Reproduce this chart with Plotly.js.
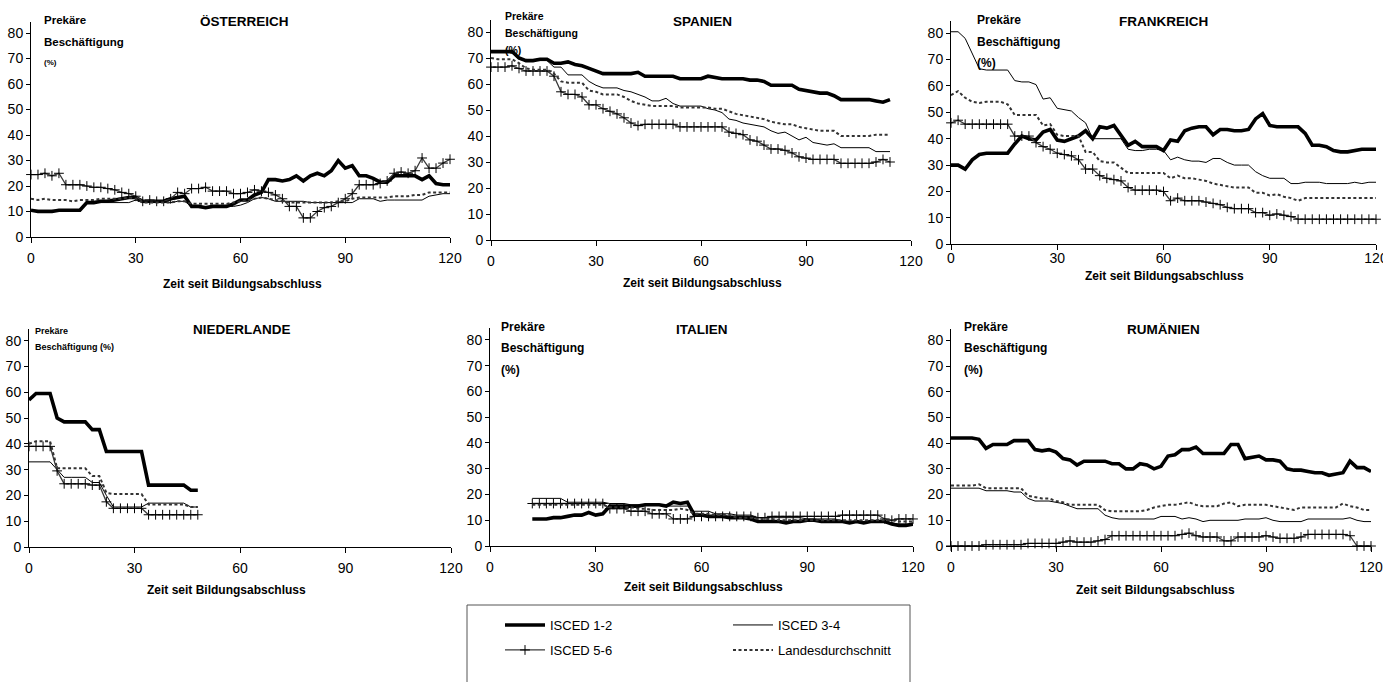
<!DOCTYPE html>
<html>
<head>
<meta charset="utf-8">
<script src="https://cdn.plot.ly/plotly-3.0.1.min.js"></script>
<style>html,body{margin:0;padding:0;background:#fff;}#chart{width:1383px;height:682px;}</style>
</head>
<body>
<div id="chart"></div>
<script>
// ---------- DATA ----------
const SERIES_NAMES = ['ISCED 1-2', 'ISCED 3-4', 'ISCED 5-6', 'Landesdurchschnitt'];
const COUNTRY_NAMES = ['ÖSTERREICH', 'SPANIEN', 'FRANKREICH', 'NIEDERLANDE', 'ITALIEN', 'RUMÄNIEN'];
const X_TICKS = [0, 30, 60, 90, 120];
const Y_TICKS = [0, 10, 20, 30, 40, 50, 60, 70, 80];
const X_TITLE = 'Zeit seit Bildungsabschluss';
const Y_TITLE_LINES = ['Prekäre', 'Beschäftigung', '(%)'];

const months_0_120 = [0,2,4,6,8,10,12,14,16,18,20,22,24,26,28,30,32,34,36,38,40,42,44,46,48,50,52,54,56,58,60,62,64,66,68,70,72,74,76,78,80,82,84,86,88,90,92,94,96,98,100,102,104,106,108,110,112,114,116,118,120];
const months_0_114 = [0,2,4,6,8,10,12,14,16,18,20,22,24,26,28,30,32,34,36,38,40,42,44,46,48,50,52,54,56,58,60,62,64,66,68,70,72,74,76,78,80,82,84,86,88,90,92,94,96,98,100,102,104,106,108,110,112,114];
const months_0_48 = [0,2,4,6,8,10,12,14,16,18,20,22,24,26,28,30,32,34,36,38,40,42,44,46,48];
const months_12_120 = [12,14,16,18,20,22,24,26,28,30,32,34,36,38,40,42,44,46,48,50,52,54,56,58,60,62,64,66,68,70,72,74,76,78,80,82,84,86,88,90,92,94,96,98,100,102,104,106,108,110,112,114,116,118,120];

// Österreich
const at_isced12 = [10.5,10,10,10,10.5,10.5,10.5,10.5,13.5,13.5, 14,14,14.5,15,15.5,15.5,14,14,14,14, 15,15.5,16,12,12,11.5,12,12,12,13, 14.5,14.5,16.5,17.5,22.5,22.5,22,22.5,24,22, 24,25,24,26,30,27,28,24,24,23, 21.5,21.5,24,24,24,24,22.5,24,21,20.5, 20.5];
const at_isced34 = [10.5,10.5,10.5,10.5,10.5,10.5,10.5,10.5,13.5,13.5, 13.5,13.5,13.5,13.5,13.5,14.5,13.5,13.5,13.5,13.5, 13.5,14,14,12,12,12,12,12,12,12, 12.5,13.5,15,15.5,15,14,14,14,14,14, 13.5,13.5,13.5,13.5,13.5,13.5,13.5,15,15,15, 14,14.5,14.5,14.5,14.5,14.5,14.5,16,16.5,17, 17];
const at_isced56 = [24.5,24.5,25,24,25,20.5,20.5,20.5,20,19.5, 19.5,19,18.5,17.5,17,16,14,14.5,14,14, 15,17.5,17,19,19,19.5,18,18,18,17, 17,17.5,18.5,18,17.5,16.5,15,12,12,7.5, 7.5,10,11.5,12,13.5,15,17,20.5,20.5,20.5, 21,22,25,25.5,25,26,31,27,27,29, 30.5];
const at_avg = [15,14.5,15,14.5,14.5,14.5,14,14.5,14.5,14.5, 15,15,15,15,15.5,15,13.5,13.5,13.5,13.5, 13.5,14,14,13,13,13,13,13,13,13.5, 14,14.5,15,15.5,15,14.5,14,13.5,13.5,13.5, 13.5,13.5,13.5,13.5,14,14,15,15.5,15.5,15.5, 15.5,15.5,16,16,16,16.5,16.5,17.5,17.5,17.5, 17.5];

// Spanien
const es_isced12 = [72.5,72.5,72.5,72.5,70,69,69,69.5,69.5,68, 68,68.5,67.5,67,66,65,64,64,64,64, 64,64.5,63,63,63,63,63,62,62,62, 62,63,62.5,62,62,62,62,61.5,61.5,61, 59.5,59.5,59.5,59.5,58,57.5,57,56.5,56.5,55.5, 54,54,54,54,54,53.5,53,54];
const es_isced34 = [72,72,72,72,69.5,69,69,69,69,66.5, 66.5,63.5,63.5,63.5,61,59.5,58.5,58.5,58.5,57.5, 57,56,55,53.5,53.5,54.5,52.5,51.5,51.5,51.5, 51.5,50.5,50,49,46.5,46,45,44.5,44,43.5, 42,41,41.5,40,38.5,39.5,37.5,37,36.5,37, 35.5,35.5,35.5,35.5,35.5,34,34,34];
const es_isced56 = [66.5,66.5,66.5,67,66,65,65,65,65,63, 57,56,56,55,52,52,50.5,49.5,48.5,47, 45,44,44.5,44.5,44.5,44.5,44.5,43.5,43.5,43.5, 43.5,43.5,43.5,43.5,41.5,41,40.5,38.5,38,36.5, 35,35,34.5,33.5,32,31.5,31,31,31,31, 29.5,29.5,29.5,29.5,29.5,30,31,30];
const es_avg = [70,69.5,69.5,69.5,68,66,65.5,65.5,65.5,64, 61,60.5,60.5,60.5,57.5,57,56,56,56,55, 53.5,52.5,52,51.5,51.5,51.5,51.5,51,51,51, 51,51,50.5,50.5,49.5,48.5,48,47.5,47,46.5, 45.5,45,44.5,44.5,43.5,43,42.5,42,42,42, 40,40,40,40,40,40.5,40.5,40.5];

// Frankreich
const fr_isced12 = [30,30,28.5,32,34,34.5,34.5,34.5,34.5,38, 41,40,39.5,42.5,43.5,39.5,39,40,41,43, 40,44.5,44,45,41.5,37.5,39,37,37,37, 35.5,39.5,39,43,44,44.5,44.5,41.5,43.5,43.5, 43,43,43.5,47.5,49.5,45,44.5,44.5,44.5,44.5, 42,37.5,37.5,37,35.5,35,35,35.5,36,36, 36];
const fr_isced34 = [80.5,80.5,78,72,66.5,66,66,66,66,62, 61.5,61.5,60.5,55,55.5,51.5,51,50.5,48,46, 40,40,40,40,40,36,35.5,35.5,36,36, 35.5,32,33,32,31.5,31.5,31,32.5,32.5,31, 30,30,30,27.5,26,25,25,25,23,23, 23.5,23.5,23.5,23,23,23,23,23.5,23,23.5, 23.5];
const fr_isced56 = [46,47,45.5,45.5,45.5,45.5,45.5,45.5,45.5,41, 41,41,38.5,37,36,34.5,34,33.5,32,28.5, 28.5,26,25,24.5,24,21.5,20.5,20.5,20.5,20.5, 20,16.5,17.5,16.5,16.5,16.5,16,15.5,15,14, 13.5,13.5,13.5,12,12,11,11.5,11,10.5,9.5, 9.5,9.5,9.5,9.5,9.5,9.5,9.5,9.5,9.5,9.5, 9.5];
const fr_avg = [56.5,58,55.5,54,53.5,54,54,54,53,49, 49,49,49,45,45.5,41.5,41,41,41,35, 35,31.5,31,31,29,27,27,27,27,27, 27,25,26,25,25,24.5,24,23,22.5,22, 21.5,21.5,21.5,19.5,19.5,18.5,19,18,17.5,16.5, 17.5,17.5,17.5,17.5,17.5,17.5,17.5,17.5,17.5,17.5, 17.5];

// Niederlande
const nl_isced12 = [57,59.5,59.5,59.5,50,48.5,48.5,48.5,48.5,45.5,45.5,37,37,37,37,37,37,24,24,24,24,24,24,22,22];
const nl_isced34 = [33,33,33,33,30,27,27,27,27,25,25,20,15.5,15.5,15.5,15.5,15.5,17,17,17,17,17,17,15.5,15.5];
const nl_isced56 = [39,39,39,39,29.5,24.5,24.5,24.5,24.5,24,24,17.5,15,15,15,15,15,12.5,12.5,12.5,12.5,12.5,12.5,12.5,12.5];
const nl_avg = [40,41,41,41,30.5,30.5,30.5,30.5,30.5,27.5,27.5,21,20.5,20.5,20.5,20.5,20.5,16.5,16.5,16.5,16.5,16.5,16.5,15.5,15.5];

// Italien
const it_isced12 = [10.5,10.5,10.5,11,11,11.5,12,12,13,12, 12.5,15.5,15.5,15.5,15.5,15.5,16,16,16,15.5, 17,16.5,17,12,12,11.5,11.5,11.5,11,11, 11,10.5,9.5,9.5,9.5,9.5,9,9.5,9.5,10, 10,9.5,9.5,9.5,9.5,9,9.5,9,9.5,9.5, 9.5,8.5,8,8,8.5];
const it_isced34 = [18.5,18.5,18.5,18.5,18.5,17,17,17,17,17, 17,16.5,16.5,16.5,16,16,16,16,16,15.5, 15.5,15.5,15.5,13.5,13.5,13.5,12.5,12.5,12.5,12, 12,12,11,11,11,11,11,11,11,10.5, 10.5,10.5,10.5,10.5,9.5,9.5,9.5,9.5,9.5,9.5, 9.5,9,8.5,8.5,8.5];
const it_isced56 = [16.5,16.5,16.5,16.5,16.5,16.5,16.5,16.5,16.5,16.5, 16.5,14.5,14.5,14.5,13.5,13.5,13.5,12.5,12.5,12.5, 10.5,10.5,10.5,11.5,11.5,11.5,11.5,11.5,11.5,11.5, 11.5,11.5,11,11,11.5,11.5,11.5,11.5,11.5,11.5, 11.5,11.5,11.5,11.5,12,12,12,12,12,12, 10.5,10,10.5,10.5,10.5];
const it_avg = [16,16,16,16,16,16,16,16,16,16, 16,15,15,15,15,14.5,14.5,14,14,14, 14,14.5,14,12.5,12.5,12.5,12,12,12,11, 11,11,10.5,10.5,10.5,10,10,10,10,10, 10,10,10,10,10,10,10,10,10,10, 10,10,9.5,9.5,9.5];

// Rumänien
const ro_isced12 = [42,42,42,42,41.5,38,39.5,39.5,39.5,41, 41,41,37.5,37,37.5,36.5,34,33.5,31.5,33, 33,33,33,32,32,30,30,32,31.5,30, 31,35,35.5,37.5,37.5,38.5,36,36,36,36, 39.5,39.5,34,34.5,35,33.5,33.5,33,30,29.5, 29.5,29,28.5,28.5,27.5,28,28.5,33,30.5,30.5, 29];
const ro_isced34 = [22.5,22.5,22.5,22.5,22.5,21.5,21.5,21.5,21.5,21, 21,18.5,17.5,17.5,17.5,17,16.5,15.5,14.5,14.5, 14.5,14.5,12,11,10.5,10.5,10.5,10.5,10.5,10.5, 11.5,11.5,11.5,10.5,11,10.5,9.5,10,10,10, 10,10,10.5,10.5,10.5,11,10,9.5,9.5,9.5, 9.5,10.5,10.5,10.5,10.5,10.5,10.5,11,10,9.5, 9.5];
const ro_isced56 = [0,0,0,0,0,0.5,0.5,0.5,0.5,0.5, 0.5,1,1,1,1,1,1.5,2,1.5,1.5, 1.5,2,2.5,4,4,4,4,4,4,4, 4,4,4,4.5,5,4,3.5,3.5,3.5,2, 2,3.5,3.5,3.5,3.5,4,3.5,3,3,3, 3.5,4.5,4.5,4.5,4.5,4.5,4.5,4,0,0, 0];
const ro_avg = [23.5,23.5,23.5,23.5,24,22.5,22.5,22.5,22.5,22.5, 22.5,19.5,19,18.5,18.5,17.5,17,16,16,16, 16,16,14,13.5,13.5,13.5,13.5,13.5,14,15, 15.5,16,16,16.5,17,16,15.5,15.5,15.5,16.5, 17,15.5,16,16,16,16,15.5,15,14.5,14, 15,15,15,15,15,15,16.5,15.5,15,14, 14];

// ---------- BUILD ----------
const W = 1383, H = 682;
const FONT = 'Liberation Sans, Arial, Helvetica, sans-serif';
const px = v => v / W;
const py = v => 1 - v / H;

const panels = [
  {months: months_0_120, data: [at_isced12, at_isced34, at_isced56, at_avg]},
  {months: months_0_114, data: [es_isced12, es_isced34, es_isced56, es_avg]},
  {months: months_0_120, data: [fr_isced12, fr_isced34, fr_isced56, fr_avg]},
  {months: months_0_48,  data: [nl_isced12, nl_isced34, nl_isced56, nl_avg]},
  {months: months_12_120, data: [it_isced12, it_isced34, it_isced56, it_avg]},
  {months: months_0_120, data: [ro_isced12, ro_isced34, ro_isced56, ro_avg]}
];

// plot-area boxes in pixels: [left, right, top, bottom]
const boxes = [
  [31, 450, 21.6, 237],
  [491, 911, 20.3, 240],
  [951, 1376, 21.2, 244.3],
  [29, 451, 329, 547],
  [490, 913, 328.4, 546],
  [951, 1371, 328.8, 546]
];
const tickStandoff = [3, 3, -4, 3, 3, 3];
// title centres, x-title centres, y-title line positions
const titlePos = [[244, 22], [702, 22], [1163, 22], [242, 329], [702, 329], [1163, 329]];
const xTitlePos = [[242, 284], [702, 283], [1164, 276], [227, 590], [703, 587], [1155, 590]];
const yTitleStyle = [
  {x: 42, ys: [20, 42, 62], sizes: [11.5, 11.5, 8]},
  {x: 503, ys: [16, 33, 50], sizes: [10.5, 10.5, 10.5]},
  {x: 975, ys: [20, 42, 63], sizes: [12, 12, 12]},
  {x: 33, ys: [331, 347], sizes: [9, 9], merge: true},
  {x: 499, ys: [327, 348, 370], sizes: [12, 12, 12]},
  {x: 962, ys: [327, 348, 370], sizes: [12, 12, 12]}
];

const styles = [
  {mode: 'lines', line: {color: '#000', width: 3.6}},
  {mode: 'lines', line: {color: '#000', width: 1}},
  {mode: 'lines+markers', line: {color: '#3a3a3a', width: 1.3},
   marker: {symbol: 'cross-thin-open', size: 7, color: '#000', line: {color: '#000', width: 1}}},
  {mode: 'lines', line: {color: '#333', width: 2, dash: '3px,2.5px'}}
];

const traces = [];
const legendBase = {orientation: 'h', xanchor: 'left', yanchor: 'top',
  entrywidth: 173, itemwidth: 40, font: {family: FONT, size: 13, color: '#000'},
  bgcolor: 'rgba(0,0,0,0)', borderwidth: 0, tracegroupgap: 0};
const layout = {
  width: W, height: H,
  margin: {l: 0, r: 0, t: 0, b: 0},
  paper_bgcolor: '#fff', plot_bgcolor: 'rgba(0,0,0,0)',
  font: {family: FONT, color: '#000', size: 14},
  annotations: [], shapes: [],
  legend: Object.assign({}, legendBase, {x: px(500), y: py(610)}),
  legend2: Object.assign({}, legendBase, {x: px(500), y: py(635)})
};

panels.forEach((p, i) => {
  const n = i === 0 ? '' : String(i + 1);
  const b = boxes[i];
  layout['xaxis' + n] = {
    domain: [px(b[0]), px(b[1])], range: [0, 120], anchor: 'y' + n,
    tickvals: X_TICKS, ticktext: X_TICKS.map(String), ticks: 'outside', ticklen: 5, tickwidth: 1,
    tickcolor: '#000', showline: true, linecolor: '#000', linewidth: 1, showgrid: false,
    zeroline: false, ticklabelstandoff: tickStandoff[i], ticklabeloverflow: 'allow',
    tickfont: {size: 14, family: FONT}, fixedrange: true
  };
  layout['yaxis' + n] = {
    domain: [py(b[3]), py(b[2])], range: [0, 84.5], anchor: 'x' + n,
    tickvals: Y_TICKS, ticktext: Y_TICKS.map(String), ticks: 'outside', ticklen: 4, tickwidth: 1,
    tickcolor: '#000', showline: true, linecolor: '#000', linewidth: 1, showgrid: false,
    zeroline: false, ticklabeloverflow: 'allow', tickfont: {size: 14, family: FONT}, fixedrange: true
  };
  p.data.forEach((vals, s) => {
    const t = Object.assign({
      type: 'scatter', x: p.months, y: vals, name: SERIES_NAMES[s],
      xaxis: 'x' + n, yaxis: 'y' + n, cliponaxis: false,
      showlegend: i === 0, legend: s < 2 ? 'legend' : 'legend2', hoverinfo: 'skip'
    }, JSON.parse(JSON.stringify(styles[s])));
    traces.push(t);
  });
  // country title
  layout.annotations.push({text: COUNTRY_NAMES[i], xref: 'paper', yref: 'paper',
    x: px(titlePos[i][0]), y: py(titlePos[i][1]), xanchor: 'center', yanchor: 'middle',
    showarrow: false, font: {family: FONT, size: 13.5, weight: 'bold', color: '#000'}});
  // x-axis title
  layout.annotations.push({text: X_TITLE, xref: 'paper', yref: 'paper',
    x: px(xTitlePos[i][0]), y: py(xTitlePos[i][1]), xanchor: 'center', yanchor: 'middle',
    showarrow: false, font: {family: FONT, size: 12, weight: 'bold', color: '#000'}});
  // y-axis title (stacked lines)
  const ys = yTitleStyle[i];
  const lines = ys.merge ? [Y_TITLE_LINES[0], Y_TITLE_LINES[1] + ' ' + Y_TITLE_LINES[2]] : Y_TITLE_LINES;
  lines.forEach((txt, k) => {
    layout.annotations.push({text: txt, xref: 'paper', yref: 'paper',
      x: px(ys.x), y: py(ys.ys[k]), xanchor: 'left', yanchor: 'middle',
      showarrow: false, font: {family: FONT, size: ys.sizes[k], weight: 'bold', color: '#000'}});
  });
});

// legend frame
layout.shapes.push({type: 'rect', xref: 'paper', yref: 'paper',
  x0: px(467), x1: px(910), y0: py(690), y1: py(605),
  line: {color: '#555', width: 1}, fillcolor: 'rgba(0,0,0,0)', layer: 'below'});

Plotly.newPlot('chart', traces, layout, {displayModeBar: false, staticPlot: true});
</script>
</body>
</html>
